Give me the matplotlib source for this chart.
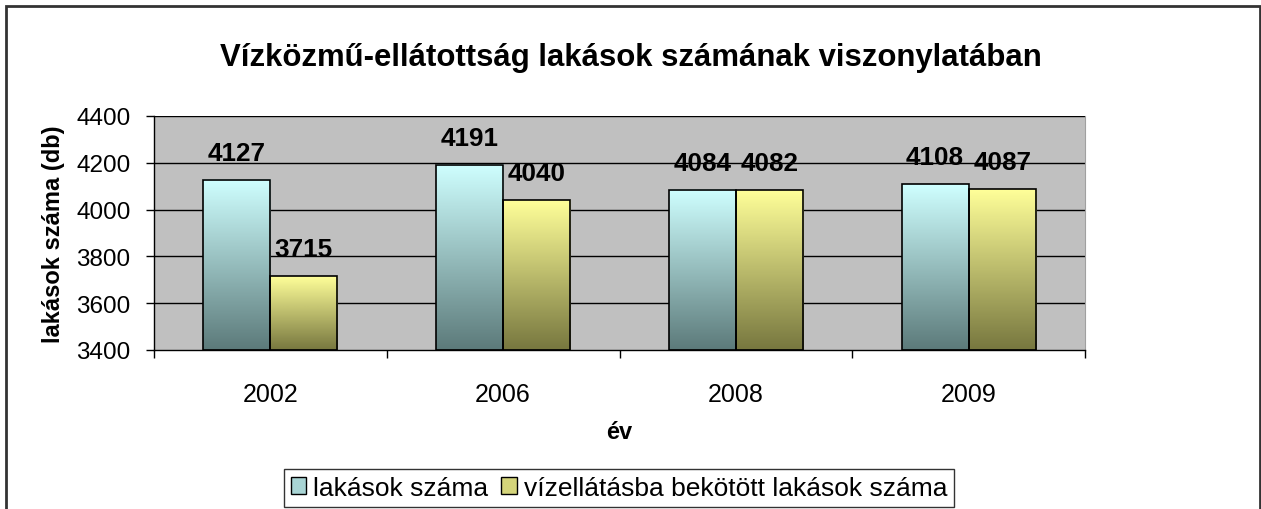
import numpy as np
import matplotlib
matplotlib.use("Agg")
import matplotlib.pyplot as plt
from matplotlib.patches import Rectangle, Patch
from matplotlib.colors import LinearSegmentedColormap

plt.rcParams['font.family'] = ['Liberation Sans', 'DejaVu Sans']

years = ['2002', '2006', '2008', '2009']
lakasok = [4127, 4191, 4084, 4108]
vizellatas = [3715, 4040, 4082, 4087]
series_names = ['lakások száma', 'vízellátásba bekötött lakások száma']
title = 'Vízközmű-ellátottság lakások számának viszonylatában'
ylabel = 'lakások száma (db)'
xlabel = 'év'
yticks = [3400, 3600, 3800, 4000, 4200, 4400]

cmap_c = LinearSegmentedColormap.from_list('c', ['#5c7a7a', '#cfffff'])
cmap_y = LinearSegmentedColormap.from_list('y', ['#77773f', '#ffff99'])

fig = plt.figure(figsize=(12.61, 5.10), dpi=100)
ax = fig.add_axes([154/1261, 1-351/510, (1085-154)/1261, (351-117)/510])
ax.set_facecolor('#c0c0c0')

x = np.arange(len(years))
w = 0.288
ymin, ymax = 3400, 4400
for yt in yticks[1:]:
    ax.axhline(yt, color='black', lw=1, zorder=1)

grad = np.linspace(0, 1, 256).reshape(-1, 1)
for vals, offs, cmap in [(lakasok, -w/2, cmap_c), (vizellatas, w/2, cmap_y)]:
    ax.bar(x + offs, [v - ymin for v in vals], w, bottom=ymin,
           facecolor='none', edgecolor='black', lw=1.2, zorder=3)
    for xi, v in zip(x + offs, vals):
        ax.imshow(grad, cmap=cmap, origin='lower', aspect='auto',
                  extent=(xi - w/2, xi + w/2, ymin, v), zorder=2)
    for xi, v in zip(x + offs, vals):
        ax.annotate(str(v), (xi, v), xytext=(0, 11), textcoords='offset points',
                    ha='center', va='bottom', fontsize=18.8,
                    fontweight='bold', zorder=4)
ax.set_xlim(-0.5, len(years)-0.5)
ax.set_ylim(ymin, ymax)

ax.set_yticks(yticks)
ax.set_yticklabels([str(t) for t in yticks], fontsize=17.5)
ax.set_xticks(x)
ax.set_xticklabels(years, fontsize=18)
ax.set_xticks(np.arange(-0.5, len(years)), minor=True)
ax.tick_params(axis='x', which='major', length=0, pad=23)
ax.tick_params(axis='x', which='minor', length=6, width=1, direction='out')
ax.tick_params(axis='y', length=6, width=1, direction='out', pad=11)
ax.spines['top'].set_visible(False)
ax.spines['right'].set_color('#a0a0a0')
ax.spines['left'].set_linewidth(1)
ax.spines['bottom'].set_linewidth(1)

ax.set_ylabel(ylabel, fontsize=17, fontweight='bold', labelpad=8)
ax.set_xlabel(xlabel, fontsize=17, fontweight='bold', labelpad=10)

fig.text(631/1261, 1-58/510, title, ha='center', va='center',
         fontsize=22.4, fontweight='bold')

handles = [Patch(facecolor='#a8d4d4', edgecolor='black'),
           Patch(facecolor='#d4d47a', edgecolor='black')]
leg = fig.legend(handles, series_names, loc='center', ncol=2,
                 bbox_to_anchor=(619/1261, 1-489/510), fontsize=19,
                 frameon=True, fancybox=False, edgecolor='black',
                 handlelength=0.6, handleheight=0.6, handletextpad=0.25,
                 columnspacing=0.5, borderpad=0.25, borderaxespad=0)
leg.get_frame().set_linewidth(1)

fig.add_artist(Rectangle((6/1261, -0.1), (1260-6)/1261, 1.1 - 7/510,
                         transform=fig.transFigure, fill=False,
                         edgecolor='#333333', lw=2))

fig.savefig('out.png', dpi=100)
